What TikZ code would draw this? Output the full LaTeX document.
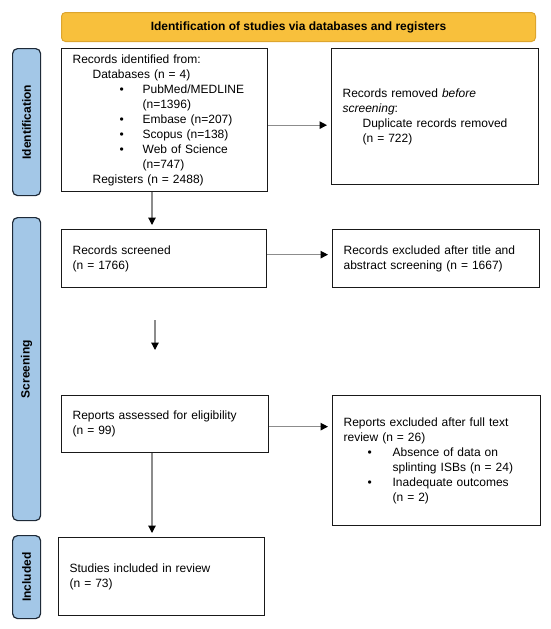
\documentclass[tikz,border=0pt]{standalone}
\usepackage{fontspec}
\setmainfont{Liberation Sans}
\usetikzlibrary{arrows.meta}

\definecolor{hdrfill}{HTML}{F8C03C}
\definecolor{hdrdraw}{HTML}{DDA52E}
\definecolor{barfill}{HTML}{A3C7E7}
\definecolor{bardraw}{HTML}{1E2A38}

\newcommand{\lvl}[1]{\hspace*{#1}}
\newcommand{\blt}[2]{\hspace*{#1}\makebox[#2][l]{\textbullet}}

\begin{document}
\begin{tikzpicture}[
    x=1pt, y=-1pt,
    stagebox/.style={
        draw=black!90,
        line width=1.3pt,
        anchor=north west,
        inner xsep=11pt,
        inner ysep=2pt,
        align=left,
        font=\fontsize{12}{15}\selectfont
    },
    phasebar/.style={
        draw=bardraw,
        fill=barfill,
        rounded corners=5pt,
        line width=1.2pt,
        anchor=north west,
        minimum width=28pt,
        inner sep=0pt
    },
    phaselabel/.style={
        rotate=90,
        font=\fontsize{12}{14}\selectfont\bfseries
    },
    arrow/.style={
        -{Triangle[length=7.5pt,width=7.5pt,color=black]},
        line width=1.2pt,
        draw=black!45,
        shorten >=4pt
    }
]
    \useasboundingbox (0,0) rectangle (550,629);

    % header
    \node[draw=hdrdraw, fill=hdrfill, rounded corners=4pt, line width=1pt,
          anchor=north west, minimum width=474pt, minimum height=29pt,
          font=\fontsize{12}{14}\selectfont\bfseries] (head) at (61,12)
        {Identification of studies via databases and registers};

    % side bars
    \node[phasebar, minimum height=147pt] (idbar) at (12,48) {};
    \node[phaselabel] at (idbar.center) {Identification};
    \node[phasebar, minimum height=303pt] (scrbar) at (12,217) {};
    \node[phaselabel] at (scrbar.center) {Screening};
    \node[phasebar, minimum height=83pt] (incbar) at (12,535) {};
    \node[phaselabel] at (incbar.center) {Included};

    % boxes
    \node[stagebox, text width=184pt, minimum height=143pt] (ident) at (61,48) {%
        Records identified from:\\
        \lvl{20pt}Databases (n = 4)\\
        \blt{47pt}{23pt}PubMed/MEDLINE\\
        \lvl{70pt}(n=1396)\\
        \blt{47pt}{23pt}Embase (n=207)\\
        \blt{47pt}{23pt}Scopus (n=138)\\
        \blt{47pt}{23pt}Web of Science\\
        \lvl{70pt}(n=747)\\
        \lvl{20pt}Registers (n = 2488)};
    \node[stagebox, text width=185pt, minimum height=136pt] (removed) at (331,48) {%
        Records removed \textit{before}\\
        \textit{screening}:\\
        \lvl{20pt}Duplicate records removed\\
        \lvl{20pt}(n = 722)};
    \node[stagebox, text width=183pt, minimum height=58pt] (screened) at (61,229) {%
        Records screened\\
        (n = 1766)};
    \node[stagebox, text width=185pt, minimum height=58pt] (excl) at (332,229) {%
        Records excluded after title and\\
        abstract screening (n = 1667)};
    \node[stagebox, text width=185pt, minimum height=57pt] (assessed) at (61,395) {%
        Reports assessed for eligibility\\
        (n = 99)};
    \node[stagebox, text width=186pt, minimum height=130pt] (exclfull) at (332,395) {%
        Reports excluded after full text\\
        review (n = 26)\\
        \blt{24pt}{25pt}Absence of data on\\
        \lvl{49pt}splinting ISBs (n = 24)\\
        \blt{24pt}{25pt}Inadequate outcomes\\
        \lvl{49pt}(n = 2)\\[11pt]};
    \node[stagebox, text width=184pt, minimum height=78pt] (included) at (58,537) {%
        Studies included in review\\
        (n = 73)\\[10pt]};

    % connectors
    \coordinate (gapa) at (155,320);
    \coordinate (gapb) at (155,354);
    \draw[arrow] ([yshift=-5pt]ident.east) -- ([yshift=-5pt]ident.east -| removed.west);
    \draw[arrow] ([xshift=91pt]ident.south west) -- ([xshift=91pt]ident.south west |- screened.north);
    \draw[arrow] ([yshift=4pt]screened.east) -- ([yshift=4pt]screened.east -| excl.west);
    \draw[arrow] (gapa) -- (gapb);
    \draw[arrow] ([yshift=-2.5pt]assessed.east) -- ([yshift=-2.5pt]assessed.east -| exclfull.west);
    \draw[arrow] ([xshift=91pt]assessed.south west) -- ([xshift=91pt]assessed.south west |- included.north);
\end{tikzpicture}
\end{document}
